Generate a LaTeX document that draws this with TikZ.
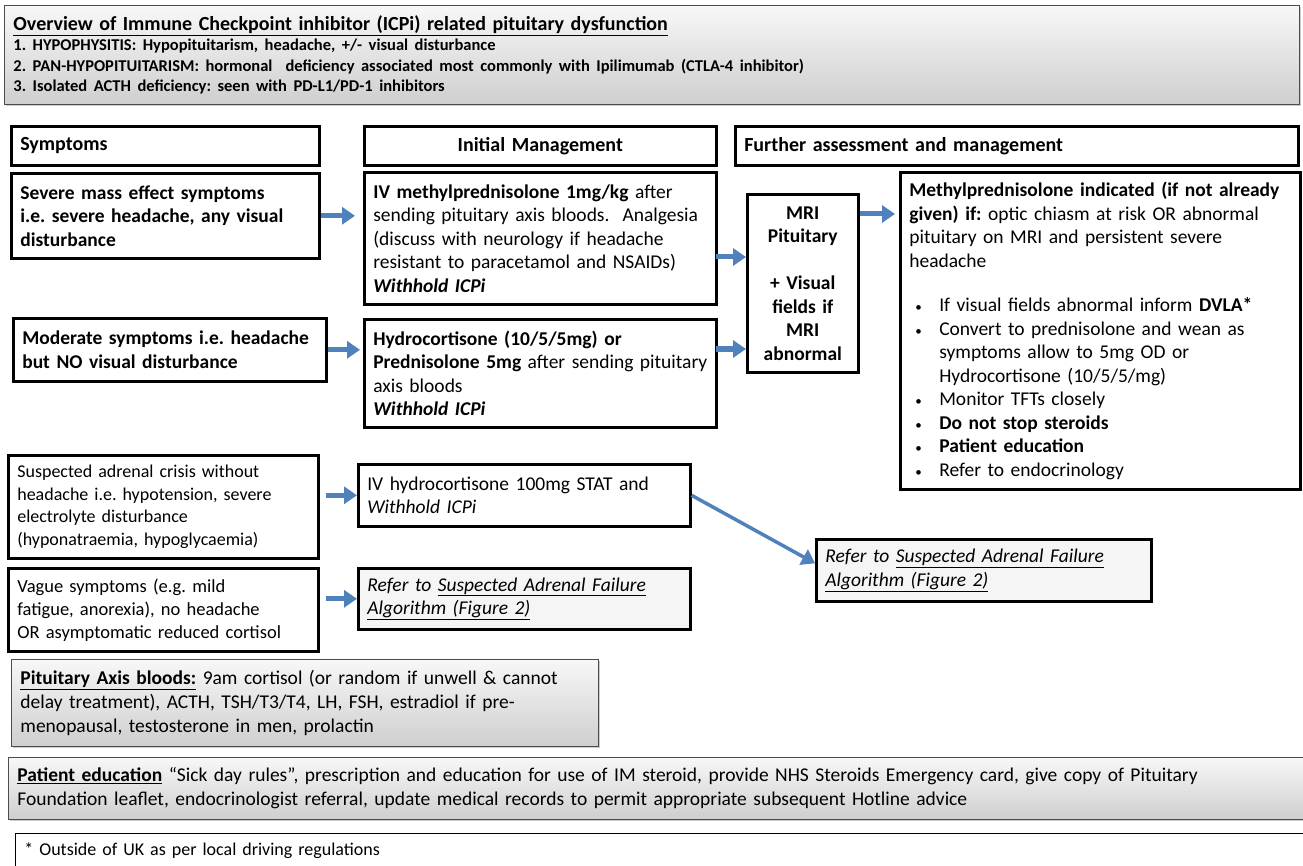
\documentclass[tikz,border=0pt]{standalone}
\usepackage{fontspec}
\setmainfont{Carlito}
\usepackage{xcolor}
\usepackage{tikz}
\usetikzlibrary{arrows.meta}
\usetikzlibrary{shadows}
\usetikzlibrary{positioning}

\definecolor{arrowblue}{HTML}{4F81BD}
\newcommand{\bul}[1]{\par\hangindent=30pt\hangafter=1\noindent\hbox to 30pt{\hspace{6pt}{\fontsize{13}{13}\selectfont\textbullet}\hfil}#1}
\frenchspacing

\begin{document}
\begin{tikzpicture}[x=1pt, y=-1pt,
    box/.style={draw, line width=2.6pt, anchor=north west, align=left, inner xsep=9pt, inner ysep=3pt, font=\fontsize{19.5}{23.5}\selectfont},
    greybox/.style={draw=black!70, line width=0.9pt, anchor=north west, align=left, inner xsep=9pt, inner ysep=3pt, top color=gray!6, bottom color=gray!38, drop shadow={shadow xshift=2pt, shadow yshift=-2pt, opacity=0.4}, font=\fontsize{19.5}{24}\selectfont},
    referbox/.style={box, fill=gray!8},
    flow/.style={draw=arrowblue, line width=5pt, -{Triangle[length=13pt, width=17pt]}}]
    \useasboundingbox (0,0) rectangle (1303,866);
    \fill[white] (0,0) rectangle (1303,866);

    % overview
    \node[greybox, text width=1277pt, minimum height=99pt] (overview) at (4,5) {%
        {\fontsize{20}{25}\selectfont\bfseries\underline{Overview of Immune Checkpoint inhibitor (ICPi) related pituitary dysfunction}\par}%
        {\fontsize{16.5}{20.5}\selectfont\bfseries 1. HYPOPHYSITIS: Hypopituitarism, headache, +/- visual disturbance\\
        2. PAN-HYPOPITUITARISM: hormonal\ \ deficiency associated most commonly with Ipilimumab (CTLA-4 inhibitor)\\
        3. Isolated ACTH deficiency: seen with PD-L1/PD-1 inhibitors\par}};

    % column headings
    \node[box, text width=290pt, minimum height=39pt, font=\fontsize{20}{24}\selectfont\bfseries] (symhead) at (10,125) {Symptoms};
    \node[box, text width=334pt, minimum height=39pt, align=center, font=\fontsize{20}{24}\selectfont\bfseries] (inithead) at (363,125) {Initial Management};
    \node[box, text width=545pt, minimum height=39pt, font=\fontsize{20}{24}\selectfont\bfseries] (furthhead) at (734,125) {Further assessment and management};

    % symptoms
    \node[box, text width=290pt, minimum height=85pt, font=\fontsize{19.5}{23.5}\selectfont\bfseries] (severe) at (10,172) {Severe mass effect symptoms\\ i.e. severe headache, any visual\\ disturbance};
    \node[box, text width=295pt, minimum height=63pt, font=\fontsize{19.5}{23.5}\selectfont\bfseries] (moderate) at (12,317) {Moderate symptoms i.e. headache\\ but NO visual disturbance};
    \node[box, text width=292pt, minimum height=103pt, font=\fontsize{18}{22.5}\selectfont] (adrenal) at (7,454) {Suspected adrenal crisis without\\ headache i.e. hypotension, severe\\ electrolyte disturbance\\ (hyponatraemia, hypoglycaemia)};
    \node[box, text width=292pt, minimum height=83pt, font=\fontsize{18.5}{23}\selectfont] (vague) at (7,567) {Vague symptoms (e.g. mild\\ fatigue, anorexia), no headache\\ OR asymptomatic reduced cortisol};

    % initial management
    \node[box, text width=334pt, minimum height=132pt] (ivmp) at (363,171) {\textbf{IV methylprednisolone 1mg/kg} after\\ sending pituitary axis bloods.\ \ Analgesia\\ (discuss with neurology if headache\\ resistant to paracetamol and NSAIDs)\\ \textbf{\textit{Withhold ICPi}}};
    \node[box, text width=334pt, minimum height=108pt] (hydro) at (363,318) {\textbf{Hydrocortisone (10/5/5mg) or}\\ \textbf{Prednisolone 5mg} after sending pituitary\\ axis bloods\\ \textbf{\textit{Withhold ICPi}}};
    \node[box, text width=314pt, minimum height=62pt] (ivhc) at (357,463) {IV hydrocortisone 100mg STAT and\\ \textit{Withhold ICPi}};
    \node[referbox, text width=314pt, minimum height=61pt] (referleft) at (357,567) {\textit{Refer to \underline{Suspected Adrenal Failure}}\\ \textit{\underline{Algorithm (Figure 2)}}};

    % further assessment
    \node[box, text width=93pt, minimum height=178pt, align=center, font=\fontsize{19.5}{23.5}\selectfont\bfseries] (mri) at (746,193) {MRI\\ Pituitary\\[23.5pt] + Visual\\ fields if\\ MRI\\ abnormal};
    \node[box, text width=382pt, minimum height=317pt] (methyl) at (899,171) {%
        \textbf{Methylprednisolone indicated (if not already}\\ \textbf{given) if:} optic chiasm at risk OR abnormal\\ pituitary on MRI and persistent severe\\ headache\par\vspace{21pt}
        \bul{If visual fields abnormal inform \textbf{DVLA*}}
        \bul{Convert to prednisolone and wean as\newline symptoms allow to 5mg OD or\newline Hydrocortisone (10/5/5/mg)}
        \bul{Monitor TFTs closely}
        \bul{\textbf{Do not stop steroids}}
        \bul{\textbf{Patient education}}
        \bul{Refer to endocrinology}};
    \node[referbox, text width=317pt, minimum height=62pt] (referright) at (815,538) {\textit{Refer to \underline{Suspected Adrenal Failure}}\\ \textit{\underline{Algorithm (Figure 2)}}};

    % bloods, education, footnote
    \node[greybox, text width=569pt, minimum height=87pt] (bloods) at (11,659) {\textbf{\underline{Pituitary Axis bloods:}} 9am cortisol (or random if unwell \& cannot\\ delay treatment), ACTH, TSH/T3/T4, LH, FSH, estradiol if pre-\\ menopausal, testosterone in men, prolactin};
    \node[greybox, text width=1282pt, minimum height=62pt] (education) at (8,757) {\textbf{\underline{Patient education}} “Sick day rules”, prescription and education for use of IM steroid, provide NHS Steroids Emergency card, give copy of Pituitary\\ Foundation leaflet, endocrinologist referral, update medical records to permit appropriate subsequent Hotline advice};
    \node[draw, line width=0.8pt, anchor=north west, align=left, text width=1282pt, inner xsep=9pt, minimum height=34pt, font=\fontsize{18}{22}\selectfont] (footnote) at (15,833) {* Outside of UK as per local driving regulations};

    % arrows
    \coordinate (rowA) at (0,214);
    \coordinate (rowB) at (0,257);
    \coordinate (rowC) at (0,349);
    \draw[flow, shorten >=8pt] (severe.east) -- (ivmp.west |- severe.east);
    \draw[flow, shorten >=3pt] (moderate.east) -- (hydro.west |- moderate.east);
    \draw[flow, shorten <=-2pt] (ivmp.east |- rowB) -- (mri.west |- rowB);
    \draw[flow, shorten <=-2pt] (hydro.east |- rowC) -- (mri.west |- rowC);
    \draw[flow, shorten >=4pt] (mri.east |- rowA) -- (methyl.west |- rowA);
    \draw[flow, shorten <=6pt] (adrenal.east |- ivhc.west) -- (ivhc.west);
    \draw[flow, shorten <=6pt] (vague.east |- referleft.west) -- (referleft.west);
    \draw[flow, line width=3.5pt] (ivhc.east) -- ([yshift=7pt]referright.west);
\end{tikzpicture}
\end{document}
